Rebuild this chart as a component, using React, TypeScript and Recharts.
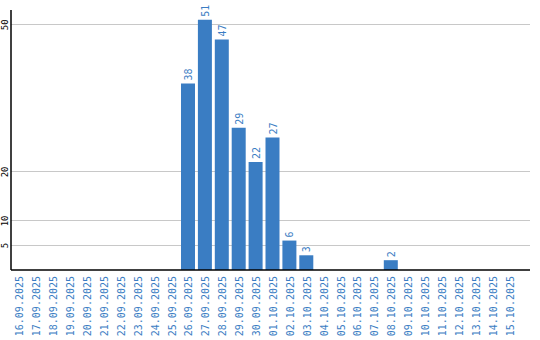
import React from "react";
import { Bar, BarChart, CartesianGrid, LabelList, XAxis, YAxis } from "recharts";

const dates: string[] = [
  "16.09.2025", "17.09.2025", "18.09.2025", "19.09.2025", "20.09.2025",
  "21.09.2025", "22.09.2025", "23.09.2025", "24.09.2025", "25.09.2025",
  "26.09.2025", "27.09.2025", "28.09.2025", "29.09.2025", "30.09.2025",
  "01.10.2025", "02.10.2025", "03.10.2025", "04.10.2025", "05.10.2025",
  "06.10.2025", "07.10.2025", "08.10.2025", "09.10.2025", "10.10.2025",
  "11.10.2025", "12.10.2025", "13.10.2025", "14.10.2025", "15.10.2025",
];

const counts: number[] = [
  0, 0, 0, 0, 0, 0, 0, 0, 0, 0,
  38, 51, 47, 29, 22, 27, 6, 3, 0, 0,
  0, 0, 2, 0, 0, 0, 0, 0, 0, 0,
];

const yTicks: number[] = [5, 10, 20, 50];

const data = dates.map((d, i) => ({ date: d, count: counts[i] }));

const BLUE = "#3a7dc3";
const MONO = "DejaVu Sans Mono";

const DateTick = (props: any) => {
  const { x, payload } = props;
  const tx = x + 4;
  const ty = 276;
  return (
    <g transform={`translate(${tx}, ${ty}) rotate(-90)`}>
      <text
        x={0}
        y={0}
        textAnchor="end"
        style={{ fill: BLUE, fontSize: "10px", fontFamily: MONO }}
      >
        {payload.value}
      </text>
    </g>
  );
};

const CountTick = (props: any) => {
  const { y, payload } = props;
  return (
    <g transform={`translate(8, ${y}) rotate(-90)`}>
      <text
        x={0}
        y={0}
        textAnchor="middle"
        style={{ fill: "#000", fontSize: "9px", fontFamily: MONO }}
      >
        {payload.value}
      </text>
    </g>
  );
};

const ValueLabel = (props: any) => {
  const { x, y, width, value } = props;
  if (!value) return null;
  const cx = x + width / 2 + 4;
  const ty = y - 3;
  return (
    <g transform={`translate(${cx}, ${ty}) rotate(-90)`}>
      <text
        x={0}
        y={0}
        textAnchor="start"
        style={{ fill: BLUE, fontSize: "10px", fontFamily: MONO }}
      >
        {value}
      </text>
    </g>
  );
};

export default function App() {
  return (
    <div style={{ position: "absolute", left: 0, top: 0, width: 540, height: 340, background: "#fff" }}>
      <BarChart
        width={540}
        height={340}
        data={data}
        margin={{ top: 10, right: 10, left: 0, bottom: 0 }}
        style={{ overflow: "visible" }}
      >
        <CartesianGrid
          horizontal
          vertical={false}
          syncWithTicks
          stroke="#c8c8c8"
          shapeRendering="crispEdges"
        />
        <XAxis
          dataKey="date"
          interval={0}
          height={70}
          tick={<DateTick />}
          tickLine={false}
          axisLine={{ stroke: "#000", strokeWidth: 1.5 }}
          padding={{ left: 0, right: 12 }}
        />
        <YAxis
          width={11}
          domain={[0, 53]}
          ticks={yTicks}
          interval={0}
          tick={<CountTick />}
          tickLine={false}
          axisLine={{ stroke: "#000", strokeWidth: 1.5 }}
        />
        <Bar dataKey="count" fill={BLUE} barSize={14} isAnimationActive={false}>
          <LabelList dataKey="count" content={<ValueLabel />} />
        </Bar>
      </BarChart>
    </div>
  );
}
